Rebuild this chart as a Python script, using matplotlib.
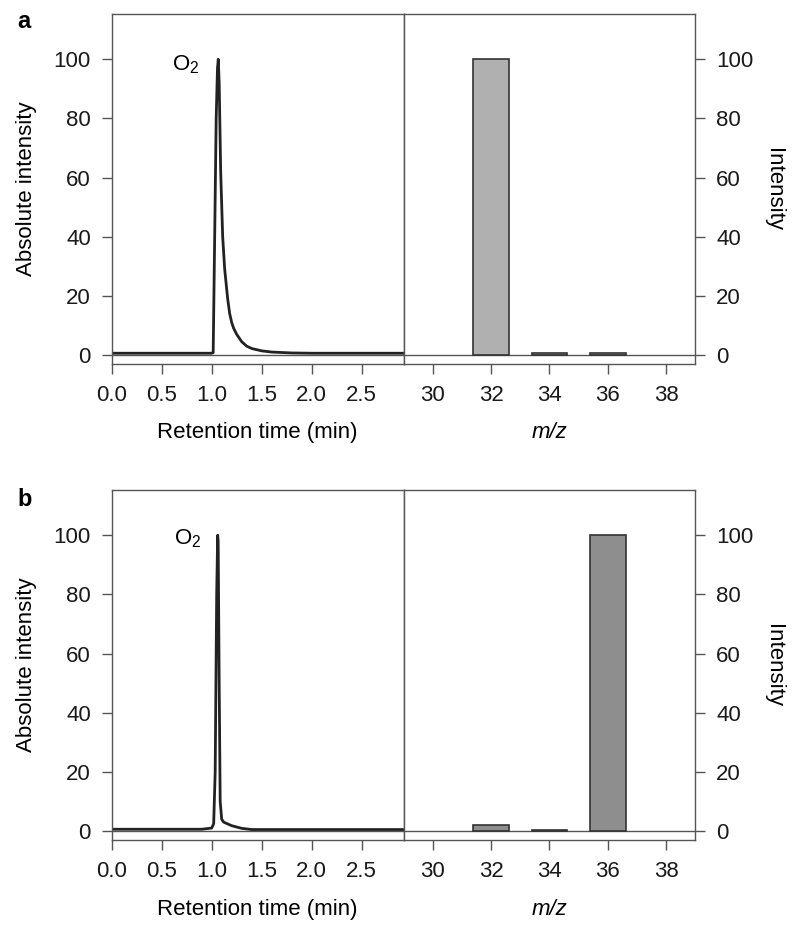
import numpy as np
import matplotlib.pyplot as plt

plt.rcParams['font.family'] = ['Liberation Sans', 'DejaVu Sans']
plt.rcParams['mathtext.fontset'] = 'custom'
plt.rcParams['mathtext.rm'] = 'Liberation Sans'
plt.rcParams['mathtext.it'] = 'Liberation Sans:italic'
plt.rcParams['mathtext.default'] = 'regular'

# chromatogram traces
t_a = [0.0, 0.5, 0.9, 1.0, 1.015, 1.03, 1.045, 1.058, 1.066, 1.075, 1.09, 1.11, 1.13,
       1.16, 1.18, 1.2, 1.22, 1.25, 1.3, 1.35, 1.4, 1.5, 1.6, 1.8, 2.0, 2.5, 2.92]
i_a = [0.6, 0.6, 0.6, 0.6, 0.8, 40, 80, 97, 100, 92, 62, 40, 29,
       19, 14, 11, 9, 7, 4.5, 3.0, 2.2, 1.4, 1.0, 0.7, 0.6, 0.6, 0.6]

t_b = [0.0, 0.5, 0.9, 1.0, 1.02, 1.035, 1.05, 1.06, 1.065, 1.075, 1.085, 1.1,
       1.12, 1.2, 1.3, 1.4, 1.6, 2.0, 2.5, 2.92]
i_b = [0.6, 0.6, 0.6, 1.0, 2.5, 20, 80, 100, 98, 50, 10, 4,
       3.0, 1.8, 0.9, 0.5, 0.5, 0.5, 0.5, 0.5]

# mass spectra
mz = [32, 34, 36]
ms_a = [100, 0.8, 0.8]
ms_b = [2.2, 0.4, 100]
bar_colors = ['#b0b0b0', '#8e8e8e']

fig = plt.figure(figsize=(8, 9.35), dpi=100)

panels = [
    (t_a, i_a, ms_a, bar_colors[0], 0.6107, 'a', 0.9765, (0.74, 98)),
    (t_b, i_b, ms_b, bar_colors[1], 0.1016, 'b', 0.4663, (0.76, 99)),
]

fs = 16
spine_c = '#555555'
for t, inten, ms, bc, bottom, lab, laby, o2 in panels:
    ax1 = fig.add_axes([0.1396, bottom, 0.365, 0.374])
    ax2 = fig.add_axes([0.5046, bottom, 0.3644, 0.374])

    ax1.axhline(0, color=spine_c, lw=1, zorder=1)
    ax1.plot(t, inten, color='#222222', lw=2, zorder=2)
    ax1.set_xlim(0, 2.92)
    ax1.set_ylim(-3.04, 115.2)
    ax1.set_xticks([0, 0.5, 1.0, 1.5, 2.0, 2.5])
    ax1.set_xticklabels(['0.0', '0.5', '1.0', '1.5', '2.0', '2.5'])
    ax1.set_yticks([0, 20, 40, 60, 80, 100])
    ax1.set_ylabel('Absolute intensity', fontsize=fs, labelpad=12)
    ax1.set_xlabel('Retention time (min)', fontsize=fs, labelpad=12)
    ax1.text(o2[0], o2[1], 'O$_2$', fontsize=fs, ha='center', va='center')

    ax2.axhline(0, color=spine_c, lw=1, zorder=1)
    ax2.bar(mz, ms, width=1.22, color=bc, edgecolor='#333333', lw=1.2, zorder=2)
    ax2.set_xlim(29, 39)
    ax2.set_ylim(-3.04, 115.2)
    ax2.set_xticks([30, 32, 34, 36, 38])
    ax2.set_yticks([0, 20, 40, 60, 80, 100])
    ax2.yaxis.tick_right()
    ax2.yaxis.set_label_position('right')
    ax2.set_ylabel('Intensity', fontsize=fs, rotation=270, labelpad=22)
    ax2.set_xlabel('m/z', fontsize=fs, style='italic', labelpad=12)

    for ax in (ax1, ax2):
        for s in ax.spines.values():
            s.set_color(spine_c)
            s.set_linewidth(1)
        ax.tick_params(direction='out', length=7, width=1, color=spine_c,
                       labelsize=fs, pad=8, labelcolor='#1a1a1a')

    fig.text(0.022, laby, lab, fontsize=17, fontweight='bold',
             ha='left', va='center')

fig.savefig('out.png', dpi=100)
